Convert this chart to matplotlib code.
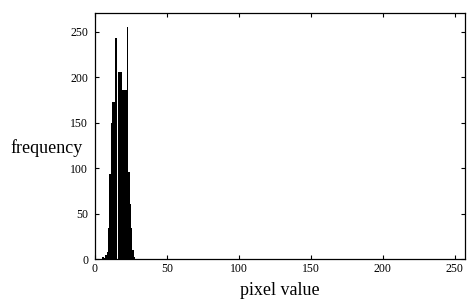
import matplotlib
matplotlib.use("Agg")
import matplotlib.pyplot as plt

pixel_values = [5, 6, 7, 8, 9, 10, 11, 12, 13, 14, 15, 16, 17, 18, 19, 20, 21, 22, 23, 24, 25, 26, 27]
frequencies = [2, 1, 4, 8, 34, 93, 150, 173, 173, 243, 0, 206, 206, 206, 186, 186, 186, 255, 96, 60, 34, 10, 2]
x_ticks = [0, 50, 100, 150, 200, 250]
y_ticks = [0, 50, 100, 150, 200, 250]

plt.rcParams['font.family'] = ['Liberation Serif', 'DejaVu Serif']

fig = plt.figure(figsize=(4.67, 3.05), dpi=100)
ax = fig.add_axes([0.2034, 0.1508, 0.7923, 0.8075])
ax.bar(pixel_values, frequencies, width=1.0, align='edge', color='black', linewidth=0)
ax.set_xlim(0, 257)
ax.set_ylim(0, 271)
ax.set_xticks(x_ticks)
ax.set_yticks(y_ticks)
ax.tick_params(direction='in', length=3, width=0.8, labelsize=8.5, top=True, right=True)
ax.tick_params(axis='y', pad=5)
ax.tick_params(axis='x', pad=3)
for s in ax.spines.values():
    s.set_linewidth(0.9)
ax.set_xlabel('pixel value', fontsize=13, labelpad=5)
ax.set_ylabel('frequency', fontsize=13, rotation=0, ha='right', va='center')
ax.yaxis.set_label_coords(-0.033, 0.45)
fig.savefig('out.png', dpi=100)
